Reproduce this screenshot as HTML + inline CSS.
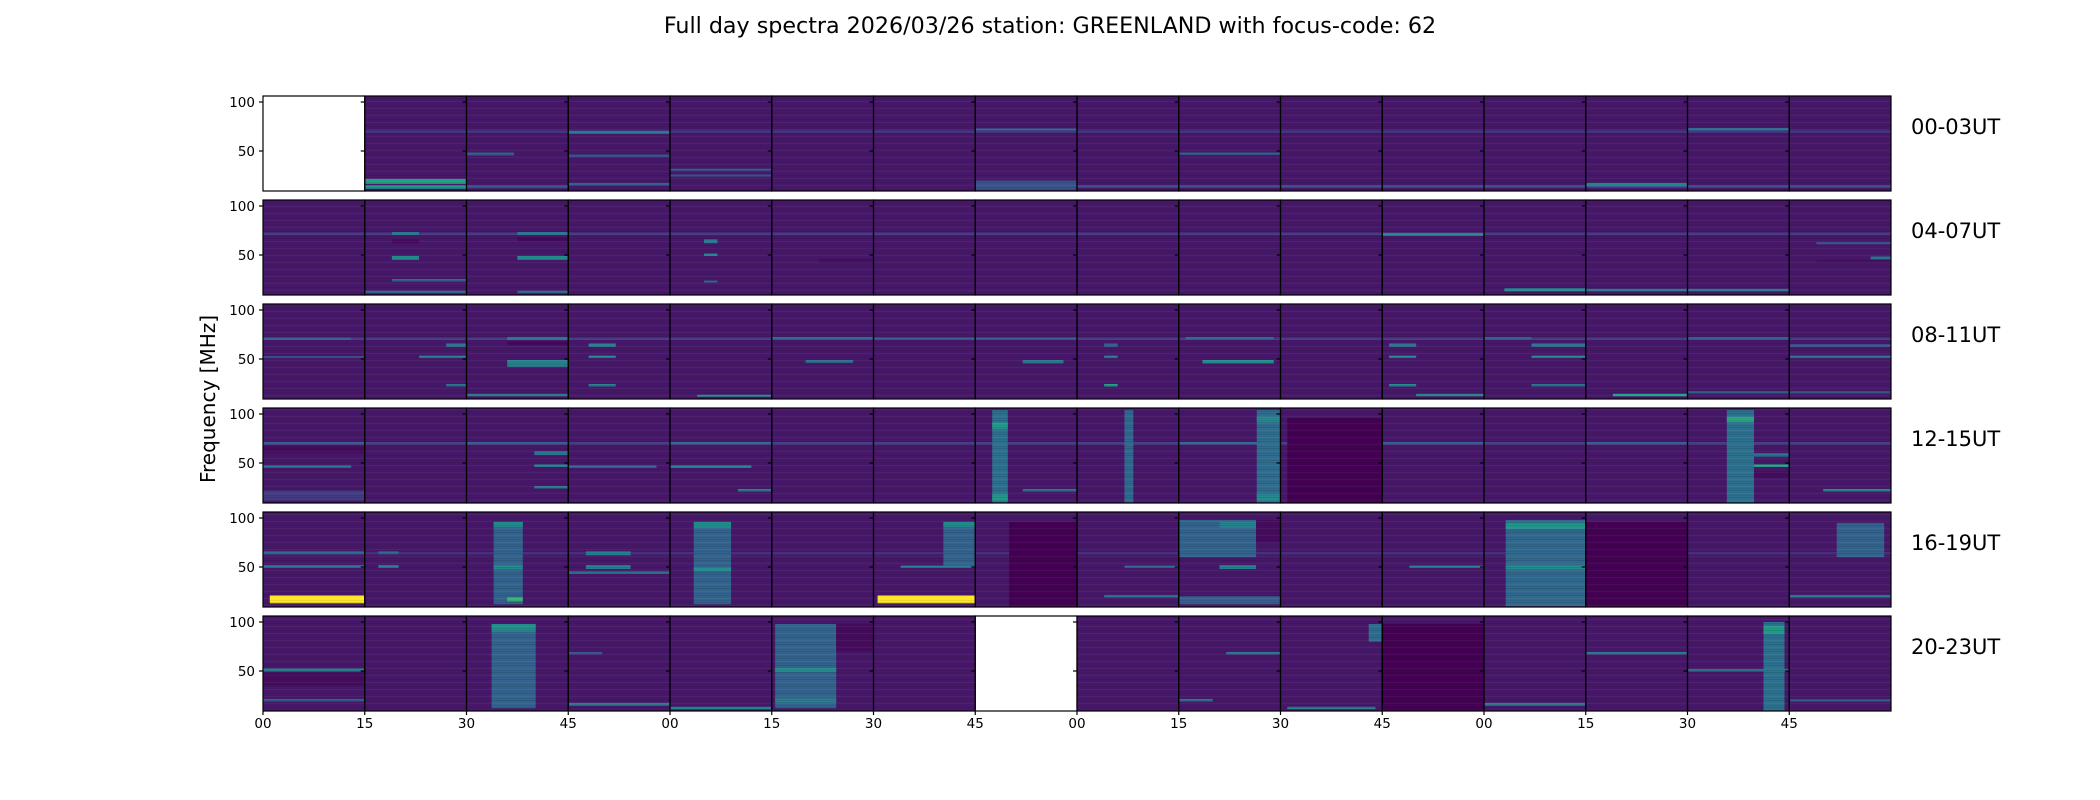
<!DOCTYPE html>
<html><head><meta charset="utf-8"><title>Full day spectra</title>
<style>html,body{margin:0;padding:0;background:#fff}svg{display:block;font-family:"DejaVu Sans","Liberation Sans",sans-serif}</style>
</head><body>
<svg id="chart" xmlns="http://www.w3.org/2000/svg" width="2100" height="800" viewBox="0 0 2100 800">
<defs>
<pattern id="stripes" patternUnits="userSpaceOnUse" width="8" height="7">
<rect x="0" y="0" width="8" height="1" fill="#000" opacity="0.10"/>
<rect x="0" y="3" width="8" height="1" fill="#fff" opacity="0.04"/>
<rect x="0" y="5" width="8" height="1" fill="#000" opacity="0.06"/>
</pattern>
</defs>
<rect width="2100" height="800" fill="#fff"/>
<text x="1050" y="33" text-anchor="middle" font-size="22.2">Full day spectra 2026/03/26 station: GREENLAND with focus-code: 62</text>
<text transform="translate(215,399) rotate(-90)" text-anchor="middle" font-size="20">Frequency [MHz]</text>
<g id="plots"></g>
</svg>
<script>
const rowLabels = ["00-03UT","04-07UT","08-11UT","12-15UT","16-19UT","20-23UT"];
const xTickLabels = ["00","15","30","45","00","15","30","45","00","15","30","45","00","15","30","45"];
const yTickValues = [100, 50];
const missingPanels = [[0,0],[5,7]];
// features: [startMinute, endMinute, freqLow, freqHigh, level(0..1)]
const row0Features = [[0,240,68.5,71,0.2],[15,30,16.5,21.5,0.68],[15,30,11.5,15,0.6],[30,37,45.5,48.5,0.35],[30,45,12,15,0.3],[45,60,67.5,70.5,0.5],[45,60,44,46.5,0.3],[45,60,15,17.5,0.35],[60,75,30,32,0.35],[60,75,24,26,0.35],[105,120,10,20,0.28],[105,120,71,73,0.35],[120,240,12.5,15,0.3],[135,150,46,48.5,0.35],[195,210,14.5,17.5,0.5],[210,225,71,73.5,0.4]];
const row1Features = [[0,240,70.5,73,0.2],[19,23,70.5,73.5,0.45],[19,23,62,66,0.02],[19,23,45,49,0.55],[19,30,23,25.5,0.4],[15,30,11,13.5,0.4],[37.5,45,70.5,73.5,0.45],[37.5,45,64,68,0.02],[37.5,45,45,49,0.55],[37.5,45,11,13.5,0.4],[65,67,62,66,0.45],[65,67,49,51.5,0.5],[65,67,22,24,0.4],[82,90,42,46,0.04],[165,180,69.5,72.5,0.5],[183,195,13,16,0.55],[195,225,13,15.5,0.45],[237,240,45.5,48.5,0.45],[229,240,42,45,0.04],[229,240,61,63,0.35]];
const row2Features = [[0,240,69.5,72,0.2],[0,13,69.5,72,0.35],[0,15,51,53,0.3],[27,30,62.5,66,0.45],[23,30,51,53.5,0.5],[27,30,22,24.5,0.45],[36,45,69.5,72.5,0.45],[36,45,64,68,0.02],[36,45,42,49,0.5],[30,45,12,14.5,0.45],[48,52,62.5,66,0.5],[48,52,51,53.5,0.55],[48,52,22,24.5,0.5],[64,75,11.5,13.5,0.55],[75,90,70,72.5,0.4],[80,87,46,49,0.4],[90,105,70,72,0.35],[112,118,45.5,49,0.45],[105,120,70,72,0.35],[124,126,62.5,66,0.35],[124,126,51,53.5,0.5],[124,126,22,24.5,0.65],[136,149,70,72.5,0.4],[138.5,149,45.5,49,0.55],[166,170,62.5,66,0.45],[166,170,51,53.5,0.55],[166,170,22,24.5,0.55],[170,180,12,14.5,0.5],[180,187,70,72.5,0.35],[187,195,62.5,66,0.45],[187,195,51,53.5,0.55],[187,195,22,24.5,0.45],[199,210,12,14.5,0.65],[210,225,70,72.5,0.35],[210,225,15,17,0.4],[225,240,62.5,65,0.35],[225,240,51,53.5,0.45],[225,240,15,17,0.35]];
const row3Features = [[0,240,69,71.5,0.22],[0,15,69,71.5,0.35],[0,15,60,67,0.03],[0,13,45,47.5,0.45],[0,15,12,22,0.2],[30,45,69,71.5,0.35],[40,45,58,62,0.45],[40,45,46,48.5,0.5],[40,45,24,26.5,0.45],[45,58,45,47.5,0.4],[60,75,69,71.5,0.4],[60,72,45,47.5,0.55],[70,75,21,23.5,0.5],[107.5,109.8,9,104,0.42],[107.5,109.8,85,91,0.62],[107.5,109.8,12,18,0.62],[112,120,21,23.5,0.45],[127,128.3,9,104,0.38],[135,150,69,71.5,0.4],[146.5,150,9,104,0.4],[146.5,150,92,97,0.55],[146.5,150,12,18,0.55],[151,165,9,96,0.0],[165,180,69,71.5,0.35],[195,210,69,71.5,0.35],[215.8,219.8,9,104,0.42],[215.8,219.8,92,97,0.7],[219.8,225,56.5,60,0.45],[219.8,225,46,48.5,0.68],[219.8,225,35,42,0.03],[230,240,21,23.5,0.55]];
const row4Features = [[0,240,63,65,0.2],[0,15,63,66,0.42],[0,15,49,52,0.45],[1,15,13,21,1.0],[17,20,63,66,0.4],[17,20,49,52,0.5],[34,38.3,12,96,0.36],[34,38.3,91,96,0.55],[34,38.3,48,52,0.55],[36,38.3,15,19,0.75],[47.6,54.2,62,66,0.5],[47.6,54.2,48,52,0.5],[45,60,43,45.5,0.45],[63.5,69,12,96,0.36],[63.5,69,90,96,0.55],[63.5,69,46,50,0.55],[90.6,105,13,21,1.0],[100.3,105,50,96,0.36],[100.3,105,91,96,0.55],[94,105,49,51.5,0.5],[110,120,9,96,0.0],[127,135,49,51.5,0.4],[124,135,19,21.5,0.45],[135,146.4,60,98,0.36],[141,146.4,90,96,0.5],[146.4,150,75,98,0.03],[141,146.4,48,52,0.5],[135,150,12,20,0.35],[169,180,49,51.5,0.5],[183.2,195,10,98,0.38],[183.2,195,89,95,0.6],[183.2,195,48,52,0.55],[195,210,9,96,0.0],[232,239,60,95,0.36],[225,240,19,21.5,0.5]];
const row5Features = [[0,15,49.5,52.5,0.5],[0,15,35,48,0.03],[0,15,19,21.5,0.35],[33.7,40.2,12,98,0.36],[33.7,40.2,90,98,0.55],[45,50,67,69.5,0.3],[45,60,14.5,17.5,0.45],[60,75,11,13.5,0.55],[75.5,84.5,12,98,0.36],[75.5,84.5,49,53,0.55],[75.5,84.5,18,22,0.5],[84.5,90,70,98,0.03],[142,150,67,69.5,0.45],[135,140,19,21.5,0.45],[151,164,11,13.5,0.5],[163,165,80,98,0.4],[165,180,9,98,0.0],[180,195,14.5,17.5,0.45],[195,210,67,69.5,0.45],[221.2,224.3,9,100,0.42],[221.2,224.3,88,96,0.62],[210,225,49.5,52,0.45],[225,240,19,21,0.4]];
const rowFeatures = [row0Features,row1Features,row2Features,row3Features,row4Features,row5Features];

const X0=263, PW=101.75, ROW_TOP=96, PITCH=104, ROW_H=95, F_MIN=9.1, F_MAX=106;
const BASE_LEVEL=0.065, LEVEL_SCALE=0.88;
function xScale(m){return X0 + m/15*PW;}
function yScale(r,f){return 102 + r*PITCH + (100-f)*0.98;}
const vstops=["#440154","#482475","#414487","#355f8d","#2a788e","#21918c","#22a884","#44bf70","#7ad151","#bddf26","#fde725"];
function hex(c){return [1,3,5].map(i=>parseInt(c.substr(i,2),16));}
function viridis(t){t=Math.max(0,Math.min(1,t));const p=t*10,i=Math.min(9,Math.floor(p)),u=p-i;const a=hex(vstops[i]),b=hex(vstops[i+1]);return "rgb("+a.map((v,k)=>Math.round(v+(b[k]-v)*u)).join(",")+")";}
function level(v){return v>=0.95?v:(v<0.05?v:v*LEVEL_SCALE);}
const NS="http://www.w3.org/2000/svg";
const g=document.getElementById("plots");
function mk(tag,attrs){const e=document.createElementNS(NS,tag);for(const k in attrs)e.setAttribute(k,attrs[k]);return e;}

for(let r=0;r<6;r++){
  const top=ROW_TOP+r*PITCH;
  const rg=mk("g",{});
  
  
  g.appendChild(rg);
  const bg=mk("rect",{x:X0,y:top,width:16*PW,height:ROW_H,fill:viridis(BASE_LEVEL)});
  
  
  rg.appendChild(bg);
  rowFeatures[r].forEach(ft=>{
    const f0=Math.max(F_MIN,ft[2]),f1=Math.min(F_MAX,ft[3]);
    const x=xScale(ft[0]),w=xScale(ft[1])-x,y=yScale(r,f1),h=yScale(r,f0)-y;
    const rc=mk("rect",{x:x,y:y,width:w,height:h,fill:viridis(level(ft[4]))});
    
    
    rg.appendChild(rc);
  });
  const tex=mk("rect",{x:X0,y:top,width:16*PW,height:ROW_H,fill:"url(#stripes)"});
  
  
  rg.appendChild(tex);
  missingPanels.forEach(mp=>{ if(mp[0]===r){
    const wr=mk("rect",{x:X0+mp[1]*PW,y:top,width:PW,height:ROW_H,fill:"#fff"});
    
    
    rg.appendChild(wr);
  }});
  for(let p=0;p<16;p++){
    const fr=mk("rect",{x:X0+p*PW,y:top,width:PW,height:ROW_H,fill:"none",stroke:"#000","stroke-width":1.2});
    
    
    rg.appendChild(fr);
    yTickValues.forEach(v=>{
      const ty=yScale(r,v);
      const tk=mk("line",{x1:X0+p*PW-4,x2:X0+p*PW,y1:ty,y2:ty,stroke:"#000","stroke-width":1.2});
      
      
      rg.appendChild(tk);
    });
  }
  yTickValues.forEach(v=>{
    const t=mk("text",{x:X0-8,y:yScale(r,v)+5,"text-anchor":"end","font-size":"13.5"});
    t.textContent=String(v);
    
    
    rg.appendChild(t);
  });
  const lb=mk("text",{x:1911,y:top+38,"font-size":"21"});
  lb.textContent=rowLabels[r];
  
  
  rg.appendChild(lb);
}
const bottom=ROW_TOP+5*PITCH+ROW_H;
xTickLabels.forEach((s,i)=>{
  const x=X0+i*PW;
  const tk=mk("line",{x1:x,x2:x,y1:bottom,y2:bottom+4,stroke:"#000","stroke-width":1.2});
  
  
  g.appendChild(tk);
  const t=mk("text",{x:x,y:bottom+17,"text-anchor":"middle","font-size":"13.5"});
  t.textContent=s;
  
  
  g.appendChild(t);
});
</script>
</body></html>
